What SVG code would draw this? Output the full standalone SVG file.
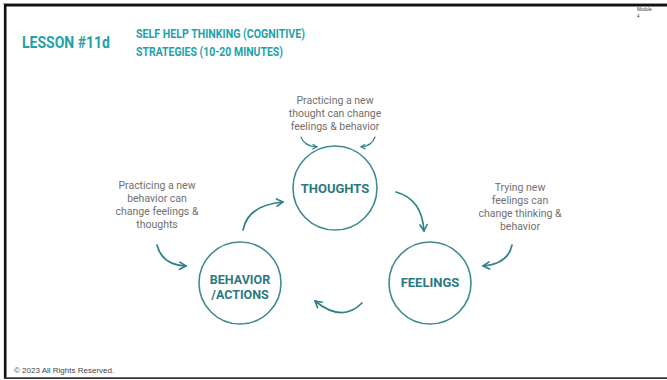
<svg xmlns="http://www.w3.org/2000/svg" width="667" height="380" viewBox="0 0 667 380">
  <style>
    .title { font-family: "Roboto", "Liberation Sans", sans-serif; font-weight: bold; fill: #1fa2a8; }
    .node circle { fill: #ffffff; stroke: #3d8b91; stroke-width: 1.6; }
    .node text { font-family: "Roboto", "Liberation Sans", sans-serif; font-weight: bold; font-size: 13px; fill: #2a7a81; text-anchor: middle; }
    .node .tight { font-size: 12.5px; }
    .note { font-family: "Roboto", "Liberation Sans", sans-serif; font-size: 10.5px; fill: #707070; text-anchor: middle; }
    .conn path { fill: none; stroke: #2f8087; stroke-width: 1.7; stroke-linecap: round; }
    .conn .small { stroke-width: 1.2; }
    .foot { font-family: "Liberation Sans", "Arial", sans-serif; font-size: 8px; fill: #444444; }
  </style>
  <defs>
    <marker id="head" viewBox="0 0 10 10" refX="8.5" refY="5" markerWidth="9" markerHeight="9" orient="auto" markerUnits="userSpaceOnUse">
      <path d="M1.5,1 L8.5,5 L1.5,9" fill="none" stroke="#2f8087" stroke-width="1.8" stroke-linecap="round" stroke-linejoin="round"/>
    </marker>
    <marker id="headSmall" viewBox="0 0 10 10" refX="8.5" refY="5" markerWidth="6" markerHeight="6" orient="auto" markerUnits="userSpaceOnUse">
      <path d="M1.5,1 L8.5,5 L1.5,9" fill="none" stroke="#2f8087" stroke-width="1.9" stroke-linecap="round" stroke-linejoin="round"/>
    </marker>
  </defs>

  <!-- slide background and frame -->
  <rect width="667" height="380" fill="#ffffff"/>
  <g id="frame" fill="none">
    <line x1="3" y1="3.5" x2="667" y2="3.5" stroke="#9a9a9a" stroke-width="1"/>
    <line x1="4" y1="5.2" x2="667" y2="5.2" stroke="#111111" stroke-width="2.6"/>
    <line x1="5.2" y1="4" x2="5.2" y2="379" stroke="#111111" stroke-width="2.6"/>
    <line x1="4" y1="378.2" x2="667" y2="378.2" stroke="#333333" stroke-width="1.8"/>
  </g>

  <!-- header -->
  <g id="header">
    <text class="title" x="22" y="48" font-size="16.5" textLength="88" lengthAdjust="spacingAndGlyphs">LESSON #11d</text>
    <text class="title" x="136" y="38" font-size="12.5" textLength="169" lengthAdjust="spacingAndGlyphs">SELF HELP THINKING (COGNITIVE)</text>
    <text class="title" x="136" y="56" font-size="12.5" textLength="147" lengthAdjust="spacingAndGlyphs">STRATEGIES (10-20 MINUTES)</text>
    <text x="637" y="11" font-family="Liberation Sans, sans-serif" font-size="4.5" fill="#333333">Module</text>
    <text x="637" y="18" font-family="Liberation Sans, sans-serif" font-size="4.5" fill="#333333">4</text>
  </g>

  <!-- annotations -->
  <g id="note-thoughts" class="note">
    <text x="335" y="104">Practicing a new</text>
    <text x="335" y="117">thought can change</text>
    <text x="335" y="130">feelings &amp; behavior</text>
  </g>
  <g id="note-behavior" class="note">
    <text x="157" y="189">Practicing a new</text>
    <text x="157" y="202">behavior can</text>
    <text x="157" y="215">change feelings &amp;</text>
    <text x="157" y="228">thoughts</text>
  </g>
  <g id="note-feelings" class="note">
    <text x="520" y="191">Trying new</text>
    <text x="520" y="204">feelings can</text>
    <text x="520" y="217">change thinking &amp;</text>
    <text x="520" y="230">behavior</text>
  </g>

  <!-- connectors -->
  <g id="connectors" class="conn">
    <path d="M243,230 Q248,205 283,202" marker-end="url(#head)"/>
    <path d="M396,192 Q422,199 424,231" marker-end="url(#head)"/>
    <path d="M362,303 Q342,323 315,301" marker-end="url(#head)"/>
    <path class="small" d="M301,137 Q304,146 317,147" marker-end="url(#headSmall)"/>
    <path class="small" d="M375,137 Q372,146 361,147" marker-end="url(#headSmall)"/>
    <path d="M157,245 Q162,265 186,266" marker-end="url(#head)"/>
    <path d="M512,245 Q508,264 483,266" marker-end="url(#head)"/>
  </g>

  <!-- nodes -->
  <g id="node-thoughts" class="node">
    <circle cx="335" cy="188" r="42"/>
    <text x="335" y="193">THOUGHTS</text>
  </g>
  <g id="node-behavior" class="node">
    <circle cx="240" cy="283" r="41"/>
    <text class="tight" x="240" y="284">BEHAVIOR</text>
    <text class="tight" x="240" y="298.5">/ACTIONS</text>
  </g>
  <g id="node-feelings" class="node">
    <circle cx="430" cy="283" r="41"/>
    <text x="430" y="287">FEELINGS</text>
  </g>

  <!-- footer -->
  <text class="foot" x="14" y="373">© 2023 All Rights Reserved.</text>
</svg>
